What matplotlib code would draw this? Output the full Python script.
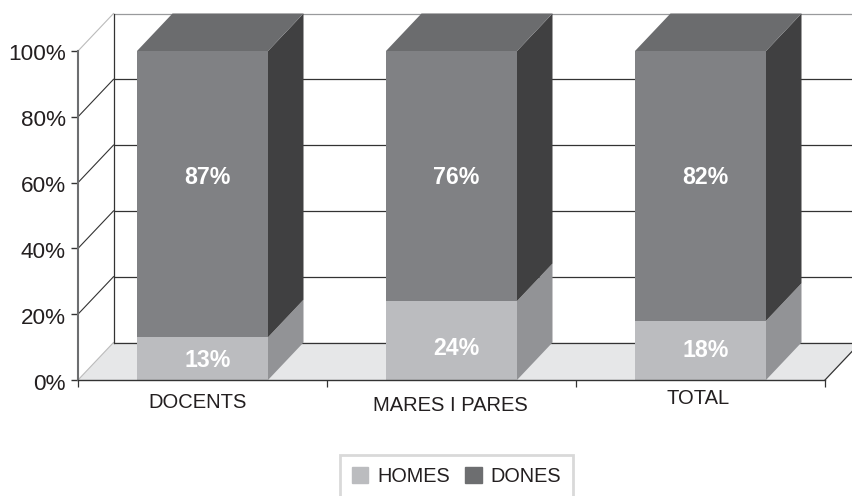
import matplotlib
matplotlib.use('Agg')
import matplotlib.pyplot as plt
from matplotlib.patches import Patch
from matplotlib.transforms import ScaledTranslation

plt.rcParams['font.family'] = ['Liberation Sans', 'DejaVu Sans']

categories = ['DOCENTS', 'MARES I PARES', 'TOTAL']
homes = [13, 24, 18]
dones = [87, 76, 82]
homes_labels = ['13%', '24%', '18%']
dones_labels = ['87%', '76%', '82%']
y_ticks = [0, 20, 40, 60, 80, 100]
y_labels = ['0%', '20%', '40%', '60%', '80%', '100%']

# small pixel nudges of the category labels, they wobble in the original
label_shift = [(-5, -2), (-1, -5), (-2, 2)]
# same for the white labels inside the homes part
homes_nudge = [-2, -8, 0]
text_dx = 5

W, H = 852, 496
fig = plt.figure(figsize=(W / 100, H / 100), dpi=100)
ax = fig.add_axes([78 / W, (H - 380) / H, 747 / W, 329 / H])
ax.set_xlim(-0.5, 2.5)
ax.set_ylim(0, 100)

# depth of the fake 3d box in data units
dx = 35.5 / 249
dy = 37.5 / 3.29
bar_w = 131 / 249
xl, xr = -0.5, 2.5

# floor
ax.fill([xl, xr, xr + dx, xl + dx], [0, 0, dy, dy], color='#e6e7e8', lw=0, zorder=1, clip_on=False)

# back wall
for t in y_ticks:
    c = '#999a9c' if t == 100 else '#333333'
    ax.plot([xl + dx, xr + dx], [t + dy, t + dy], color=c, lw=0.9, zorder=2, clip_on=False)
    ax.plot([xl, xl + dx], [t, t + dy], color='#bbbbbb' if t in (0, 100) else '#333333', lw=0.8, zorder=2, clip_on=False)
ax.plot([xl + dx, xl + dx], [dy, 100 + dy], color='#333333', lw=0.9, zorder=2, clip_on=False)
ax.plot([xr, xr + dx], [0, dy], color='#333333', lw=0.9, zorder=2, clip_on=False)

# bars
x = list(range(len(categories)))
ax.bar(x, homes, width=bar_w, color='#bbbcbf', lw=0, zorder=4)
ax.bar(x, dones, width=bar_w, bottom=homes, color='#808184', lw=0, zorder=4)
for i in x:
    r = i + bar_w / 2
    l = i - bar_w / 2
    h = homes[i]
    top = homes[i] + dones[i]
    ax.fill([r, r + dx, r + dx, r], [0, dy, h + dy, h], color='#929396', lw=0, zorder=3, clip_on=False)
    ax.fill([r, r + dx, r + dx, r], [h, h + dy, top + dy, top], color='#404041', lw=0, zorder=3, clip_on=False)
    ax.fill([l, l + dx, r + dx, r], [top, top + dy, top + dy, top], color='#6b6c6e', lw=0, zorder=3, clip_on=False)
    ax.annotate(homes_labels[i], (i, h / 2), xytext=(text_dx, homes_nudge[i]), textcoords='offset pixels', color='white',
                fontsize=16.7, fontweight='bold', ha='center', va='center', zorder=5)
    ax.annotate(dones_labels[i], (i, 61.5), xytext=(text_dx, 0), textcoords='offset pixels', color='white',
                fontsize=16.7, fontweight='bold', ha='center', va='center', zorder=5)

# axes
for s in ['top', 'right']:
    ax.spines[s].set_visible(False)
ax.spines['left'].set_color('#6d6e70')
ax.spines['left'].set_linewidth(1.5)
ax.spines['bottom'].set_color('#333333')
ax.spines['bottom'].set_linewidth(1.0)
ax.spines['bottom'].set_zorder(6)
ax.set_yticks(y_ticks, labels=y_labels, fontsize=16.2, color='#231f20')
ax.tick_params(axis='y', length=5, width=1, color='#333333', pad=4)
for lab in ax.get_yticklabels():
    lab.set_transform(lab.get_transform() + ScaledTranslation(0, -1.5 / 100, fig.dpi_scale_trans))
ax.set_xticks([-0.5, 0.5, 1.5, 2.5], labels=[])
ax.tick_params(axis='x', which='major', length=5, width=0.9, color='#333333')
ax.set_xticks(x, labels=categories, minor=True, fontsize=14.5, color='#231f20')
ax.tick_params(axis='x', which='minor', length=0, pad=8)
for lab, (sx, sy) in zip(ax.get_xticklabels(minor=True), label_shift):
    lab.set_transform(lab.get_transform() + ScaledTranslation(sx / 100, sy / 100, fig.dpi_scale_trans))

handles = [Patch(color='#bbbcbf', label='HOMES'), Patch(color='#6d6e70', label='DONES')]
leg = fig.legend(handles=handles, loc='center', bbox_to_anchor=(456.5 / W, 1 - 476 / H), ncol=2, fontsize=14.3,
                 fancybox=False, edgecolor='#d9d9d9', framealpha=1, handlelength=0.85, handleheight=0.85,
                 handletextpad=0.45, columnspacing=0.75, borderpad=0.6, labelcolor='#231f20')
leg.get_frame().set_linewidth(2)

fig.savefig('out.png', dpi=100)
